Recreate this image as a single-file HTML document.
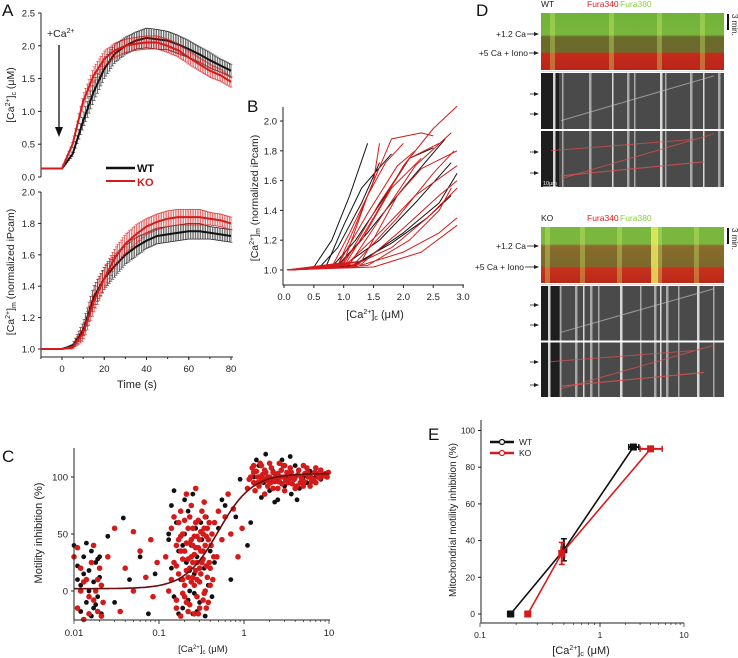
<!DOCTYPE html>
<html><head><meta charset="utf-8"><style>
html,body{margin:0;padding:0;background:#fff;}
svg{display:block;font-family:"Liberation Sans",Arial,sans-serif;}
</style></head><body>
<svg id="fig" width="738" height="658" viewBox="0 0 738 658" xmlns="http://www.w3.org/2000/svg">
<defs>
<linearGradient id="wtStrip" x1="0" y1="0" x2="0" y2="1">
<stop offset="0" stop-color="#6fb33a"/><stop offset="0.38" stop-color="#7ab63c"/>
<stop offset="0.42" stop-color="#6a6a2a"/><stop offset="0.68" stop-color="#6d6a2c"/>
<stop offset="0.72" stop-color="#c42a1a"/><stop offset="1" stop-color="#b8261a"/></linearGradient>
<linearGradient id="koStrip" x1="0" y1="0" x2="0" y2="1">
<stop offset="0" stop-color="#78b83e"/><stop offset="0.3" stop-color="#7cb63e"/>
<stop offset="0.34" stop-color="#8a6a2a"/><stop offset="0.7" stop-color="#7a6a2c"/>
<stop offset="0.74" stop-color="#c8301c"/><stop offset="1" stop-color="#b82a1a"/></linearGradient>
</defs>
<g id="panelA"></g>
<g id="panelB"></g>
<g id="panelC"></g>
<g id="panelD"></g>
<g id="panelE"></g>
</svg>
<script>
// ---------- Panel A data ----------
const timeA = [-10,-5,0,5,10,15,20,25,30,35,40,45,50,55,60,65,70,75,80];
const wtCyto = [0.13,0.13,0.13,0.35,0.85,1.3,1.65,1.88,2.0,2.08,2.12,2.1,2.08,2.02,1.95,1.87,1.78,1.7,1.62];
const koCyto = [0.13,0.13,0.13,0.5,1.15,1.55,1.8,1.93,2.0,2.03,2.05,2.05,2.0,1.93,1.82,1.72,1.62,1.55,1.45];
const wtCytoErr = [0,0,0,0.03,0.1,0.15,0.15,0.14,0.13,0.13,0.15,0.15,0.14,0.14,0.13,0.12,0.12,0.1,0.1];
const koCytoErr = [0,0,0,0.04,0.1,0.12,0.12,0.11,0.1,0.1,0.1,0.1,0.1,0.1,0.1,0.1,0.1,0.09,0.08];
const wtMito = [1.0,1.0,1.0,1.02,1.12,1.33,1.45,1.53,1.6,1.65,1.69,1.72,1.73,1.74,1.75,1.75,1.74,1.73,1.72];
const koMito = [1.0,1.0,1.0,1.01,1.1,1.3,1.45,1.58,1.67,1.73,1.78,1.81,1.83,1.84,1.84,1.84,1.83,1.82,1.8];
const wtMitoErr = [0,0,0,0.01,0.05,0.07,0.07,0.07,0.06,0.06,0.05,0.05,0.05,0.05,0.05,0.05,0.04,0.04,0.04];
const koMitoErr = [0,0,0,0.01,0.05,0.07,0.07,0.06,0.06,0.06,0.05,0.05,0.05,0.05,0.05,0.05,0.04,0.04,0.04];
const ticksAtop = [0,0.5,1.0,1.5,2.0,2.5];
const ticksAbot = [1.0,1.2,1.4,1.6,1.8,2.0];
const ticksAx = [0,20,40,60,80];

// ---------- Panel B data ----------
const wtTracesB = [
 [[0.1,1.0],[0.5,1.02],[0.8,1.2],[1.1,1.5],[1.4,1.85]],
 [[0.1,1.0],[0.6,1.02],[0.9,1.15],[1.3,1.45],[1.6,1.72]],
 [[0.1,1.0],[0.8,1.02],[1.2,1.2],[1.7,1.5],[2.1,1.75],[2.5,1.82]],
 [[0.1,1.0],[0.9,1.03],[1.4,1.25],[2.0,1.55],[2.7,1.88]],
 [[0.1,1.0],[1.0,1.03],[1.6,1.2],[2.2,1.45],[2.8,1.72]],
 [[0.1,1.0],[1.1,1.02],[1.8,1.18],[2.4,1.35],[2.8,1.5]],
 [[0.1,1.0],[0.7,1.02],[1.0,1.3],[1.3,1.55],[1.8,1.78]],
 [[0.1,1.0],[1.2,1.03],[2.0,1.25],[2.6,1.45],[2.9,1.65]]
];
const koTracesB = [
 [[0.05,1.0],[0.9,1.03],[1.2,1.3],[1.5,1.6],[1.6,1.85]],
 [[0.05,1.0],[1.0,1.05],[1.4,1.5],[1.8,1.88],[2.3,1.92],[2.5,1.9]],
 [[0.05,1.0],[1.0,1.02],[1.5,1.35],[2.0,1.7],[2.5,1.95],[2.9,2.1]],
 [[0.05,1.0],[1.1,1.04],[1.7,1.4],[2.2,1.7],[2.8,1.92]],
 [[0.05,1.0],[0.9,1.02],[1.3,1.2],[1.8,1.55],[2.3,1.75]],
 [[0.05,1.0],[1.2,1.05],[1.9,1.35],[2.5,1.65],[2.85,1.8]],
 [[0.05,1.0],[1.0,1.02],[1.6,1.25],[2.2,1.5],[2.9,1.7]],
 [[0.05,1.0],[1.3,1.04],[2.0,1.28],[2.6,1.5],[2.9,1.6]],
 [[0.05,1.0],[1.1,1.02],[1.8,1.15],[2.4,1.35],[2.9,1.55]],
 [[0.05,1.0],[1.2,1.02],[2.0,1.12],[2.6,1.25],[2.9,1.35]],
 [[0.05,1.0],[0.8,1.02],[1.1,1.25],[1.4,1.5],[1.7,1.72],[2.0,1.85]],
 [[0.05,1.0],[1.4,1.03],[2.1,1.2],[2.6,1.4],[2.8,1.55]],
 [[0.05,1.0],[1.5,1.02],[2.3,1.12],[2.9,1.3]],
 [[0.05,1.0],[0.9,1.03],[1.4,1.38],[1.9,1.7],[2.2,1.8]],
 [[0.05,1.0],[1.0,1.04],[1.6,1.45],[2.1,1.75],[2.6,1.85]],
 [[0.05,1.0],[1.3,1.06],[1.9,1.5],[2.3,1.68],[2.9,1.8]]
];
const ticksBy = [1.0,1.2,1.4,1.6,1.8,2.0];
const ticksBx = [0.0,0.5,1.0,1.5,2.0,2.5,3.0];

// ---------- Panel C data ----------
const wtScatterC = "0.010,40 0.011,22 0.012,5 0.013,30 0.014,-10 0.015,18 0.016,35 0.017,8 0.018,25 0.019,-5 0.020,12 0.021,-20 0.012,-18 0.015,0 0.017,-15 0.019,28 0.011,10 0.014,42 0.016,-22 0.020,30 0.013,15 0.018,-12 0.025,48 0.038,64 0.045,10 0.06,30 0.075,-20 0.03,-10 0.09,15 0.13,45 0.14,20 0.15,-5 0.16,60 0.17,35 0.18,10 0.19,-15 0.2,50 0.21,25 0.22,70 0.23,0 0.24,40 0.25,-20 0.26,15 0.27,55 0.28,30 0.3,-10 0.32,45 0.34,20 0.36,65 0.38,5 0.4,35 0.42,-5 0.45,25 0.15,88 0.2,80 0.17,-20 0.22,-8 0.28,-18 0.35,-22 0.14,75 0.25,85 0.5,55 0.55,80 0.6,75 0.7,10 0.8,65 0.13,50 0.19,40 0.23,18 0.31,60 0.26,-2 1.2,60 0.9,98 1.1,40 1.3,100 1.5,110 1.7,95 1.8,120 2.0,88 2.2,105 2.5,80 2.8,115 3.0,92 3.3,100 3.6,85 4.0,110 4.5,90 5.0,100 5.5,95 6.0,105 7.0,100 8.0,98 9.0,103 1.6,82 2.3,78 3.5,118 4.2,80 1.4,115 2.7,95";
const koScatterC = "0.010,30 0.011,-15 0.012,20 0.013,-25 0.014,10 0.015,-5 0.016,25 0.017,40 0.018,0 0.019,-18 0.020,20 0.021,5 0.022,-10 0.011,38 0.013,8 0.015,-20 0.017,-8 0.019,10 0.021,-22 0.012,0 0.025,30 0.03,55 0.035,-18 0.04,20 0.05,52 0.06,35 0.07,12 0.08,45 0.085,-5 0.095,25 0.05,0 0.12,30 0.13,0 0.14,55 0.15,25 0.16,-15 0.17,45 0.18,70 0.19,10 0.2,35 0.21,-10 0.22,55 0.23,20 0.24,75 0.25,40 0.26,5 0.27,60 0.28,25 0.29,-20 0.3,45 0.31,15 0.32,70 0.33,35 0.35,0 0.37,55 0.39,25 0.41,40 0.43,10 0.45,60 0.48,30 0.5,70 0.55,45 0.6,65 0.65,85 0.7,50 0.75,72 0.85,30 0.95,55 0.16,40 0.18,-22 0.2,62 0.22,-18 0.24,30 0.26,48 0.28,-5 0.3,20 0.33,50 0.36,-15 0.4,5 0.15,65 0.21,85 0.27,90 0.34,78 0.19,28 0.23,42 0.25,12 0.29,38 1.1,90 1.2,100 1.3,95 1.4,105 1.5,100 1.6,110 1.7,98 1.8,104 1.9,92 2.0,100 2.1,108 2.3,96 2.5,103 2.7,100 2.9,110 3.1,97 3.4,102 3.7,94 4.0,100 4.4,106 4.8,98 5.2,103 5.7,100 6.2,96 6.8,104 7.5,100 8.5,102 9.5,100 1.35,88 1.55,112 1.75,85 2.2,90 2.6,112 3.0,88 3.5,108 4.2,92 5.0,110 6.0,92 1.25,108 1.45,95 1.65,102 1.85,97 2.4,100 2.8,94 3.2,104 3.8,100 4.6,95 5.5,108 7.0,95 8.0,106 0.14,10 0.16,22 0.17,60 0.18,35 0.19,50 0.2,5 0.21,42 0.22,28 0.23,65 0.24,8 0.25,55 0.26,32 0.27,18 0.28,48 0.29,62 0.3,8 0.31,35 0.32,25 0.33,-8 0.34,55 0.35,40 0.36,22 0.37,12 0.38,45 0.39,60 0.4,20 0.42,50 0.44,30 0.17,15 0.2,-5 0.23,-12 0.26,-20 0.3,-15 0.34,-2 0.38,-10 0.16,-8 0.19,-2 0.22,12 0.25,25 0.28,10 0.31,52 0.35,65 0.27,38 0.24,45 0.21,18 0.18,48 0.33,28 0.36,48 1.15,98 1.3,104 1.45,100 1.6,96 1.75,106 1.9,100 2.05,95 2.2,104 2.35,100 2.55,96 2.75,106 2.95,100 3.3,95 3.6,104 3.9,98 4.3,102 4.7,100 5.1,96 5.6,104 6.1,100 6.6,98 7.2,103 7.8,99 8.8,101 9.8,104 1.5,92 2.0,112 2.5,90 3.0,110 4.0,90 5.0,92 7.0,108 1.3,110 2.2,98 3.4,98";
const fitC = {bottom:2, top:103, ec50:0.5, hill:2.2};
const ticksCx = [0.01,0.1,1,10];
const ticksCy = [0,50,100];

// ---------- Panel E data ----------
const wtE_x = [0.18,0.5,2.5];
const wtE_y = [0,35,91];
const wtE_xerr = [[0.17,0.19],[0.49,0.52],[2.2,2.9]];
const wtE_yerr = [[0,0],[29,41],[90,92]];
const koE_x = [0.25,0.48,4.0];
const koE_y = [0,33,90];
const koE_xerr = [[0.24,0.26],[0.46,0.5],[3.0,5.5]];
const koE_yerr = [[0,0],[27,39],[89,91]];
const ticksEy = [0,20,40,60,80,100];
const ticksEx = [0.1,1,10];

// ---------- helpers ----------
const NS="http://www.w3.org/2000/svg";
function mk(parent,tag,attrs,text){const e=document.createElementNS(NS,tag);for(const k in attrs)e.setAttribute(k,attrs[k]);if(text!==undefined)e.textContent=text;parent.appendChild(e);return e;}
function interp(xs,ys,x){for(let i=0;i<xs.length-1;i++){if(x>=xs[i]&&x<=xs[i+1]){const f=(x-xs[i])/(xs[i+1]-xs[i]);return ys[i]+f*(ys[i+1]-ys[i]);}}return ys[ys.length-1];}
function lbl(g,x,y,txt,size,anchor,fill){return mk(g,'text',{x:x,y:y,'font-size':size,'text-anchor':anchor||'middle',fill:fill||'#222'},txt);}

// ---------- Panel A ----------
const gA=document.getElementById('panelA');
const xA=t=>62+t*2.1125;
const yAt=v=>177-v*65.6;
const yAb=v=>349-(v-1)*157;
let t=mk(gA,'text',{x:2,y:16,'font-size':17,fill:'#111'},'A');

let ax=mk(gA,'path',{d:`M41,13 V177`,stroke:'#222','stroke-width':1,fill:'none'});

ticksAtop.forEach(v=>{mk(gA,'line',{x1:38,x2:41,y1:yAt(v),y2:yAt(v),stroke:'#222'});lbl(gA,35,yAt(v)+3.5,v.toFixed(1),9.5,'end');});
ax=mk(gA,'path',{d:`M41,192 V357 H233`,stroke:'#222','stroke-width':1,fill:'none'});

ticksAbot.forEach(v=>{mk(gA,'line',{x1:38,x2:41,y1:yAb(v),y2:yAb(v),stroke:'#222'});lbl(gA,35,yAb(v)+3.5,v.toFixed(1),9.5,'end');});
ticksAx.forEach(v=>{mk(gA,'line',{x1:xA(v),x2:xA(v),y1:357,y2:360,stroke:'#222'});lbl(gA,xA(v),372,String(v),9.5);});
for(let v=-10;v<=80;v+=10){mk(gA,'line',{x1:xA(v),x2:xA(v),y1:357,y2:359,stroke:'#222'});}
t=lbl(gA,137,388,'Time (s)',11);
t=mk(gA,'text',{transform:'translate(14,95) rotate(-90)','font-size':10.5,'text-anchor':'middle',fill:'#222'});
t.innerHTML='[Ca<tspan font-size="7" dy="-4">2+</tspan><tspan dy="4">]</tspan><tspan font-size="7" dy="2">c</tspan><tspan dy="-2"> (μM)</tspan>';

t=mk(gA,'text',{transform:'translate(14,272) rotate(-90)','font-size':10.5,'text-anchor':'middle',fill:'#222'});
t.innerHTML='[Ca<tspan font-size="7" dy="-4">2+</tspan><tspan dy="4">]</tspan><tspan font-size="7" dy="2">m</tspan><tspan dy="-2"> (normalized iPcam)</tspan>';

t=mk(gA,'text',{x:47,y:37,'font-size':10.5,fill:'#222'});t.innerHTML='+Ca<tspan font-size="7" dy="-4">2+</tspan>';

let ar=mk(gA,'path',{d:'M59,45 V130',stroke:'#111','stroke-width':1.3});
ar=mk(gA,'path',{d:'M55,127 L59,137 L63,127 Z',fill:'#111'});
function drawSeriesA(vals,errs,yf,color,name){
  const g=mk(gA,'g',{});
  for(let s=0;s<=80;s+=0.8){const m=interp(timeA,vals,s),e=interp(timeA,errs,s);
    if(e<=0)continue;
    mk(g,'line',{x1:xA(s),x2:xA(s),y1:yf(m-e),y2:yf(m+e),stroke:color,'stroke-width':0.7,opacity:0.85});
    mk(g,'line',{x1:xA(s)-1.5,x2:xA(s)+1.5,y1:yf(m+e),y2:yf(m+e),stroke:color,'stroke-width':0.6,opacity:0.8});
    mk(g,'line',{x1:xA(s)-1.5,x2:xA(s)+1.5,y1:yf(m-e),y2:yf(m-e),stroke:color,'stroke-width':0.6,opacity:0.8});}
  let d='';timeA.forEach((tt,i)=>{d+=(i?'L':'M')+xA(tt).toFixed(1)+','+yf(vals[i]).toFixed(1);});
  mk(g,'path',{d:d,stroke:color,'stroke-width':2,fill:'none'});
}
drawSeriesA(wtCyto,wtCytoErr,yAt,'#111','wt-cytosolic-series');
drawSeriesA(koCyto,koCytoErr,yAt,'#d41a1a','ko-cytosolic-series');
drawSeriesA(wtMito,wtMitoErr,yAb,'#111','wt-mito-series');
drawSeriesA(koMito,koMitoErr,yAb,'#d41a1a','ko-mito-series');
let lg=mk(gA,'g',{});
mk(lg,'line',{x1:106,x2:135,y1:168,y2:168,stroke:'#111','stroke-width':2.5});
mk(lg,'text',{x:137,y:172,'font-size':11,'font-weight':'bold',fill:'#111'},'WT');
mk(lg,'line',{x1:106,x2:135,y1:181,y2:181,stroke:'#d41a1a','stroke-width':2});
mk(lg,'text',{x:137,y:186,'font-size':11,'font-weight':'bold',fill:'#d41a1a'},'KO');

// ---------- Panel B ----------
const gB=document.getElementById('panelB');
const xB=v=>284+v*59.7;
const yB=v=>270-(v-1)*149;
t=mk(gB,'text',{x:247,y:112,'font-size':17,fill:'#111'},'B');
ax=mk(gB,'path',{d:'M283,107 V285 H464',stroke:'#222',fill:'none'});
ticksBy.forEach(v=>{mk(gB,'line',{x1:280,x2:283,y1:yB(v),y2:yB(v),stroke:'#222'});lbl(gB,277,yB(v)+3.5,v.toFixed(1),9.5,'end');});
ticksBx.forEach(v=>{mk(gB,'line',{x1:xB(v),x2:xB(v),y1:285,y2:288,stroke:'#222'});lbl(gB,xB(v),300,v.toFixed(1),9.5);});
t=mk(gB,'text',{x:375,y:318,'font-size':11,'text-anchor':'middle',fill:'#222'});
t.innerHTML='[Ca<tspan font-size="7" dy="-4">2+</tspan><tspan dy="4">]</tspan><tspan font-size="7" dy="2">c</tspan><tspan dy="-2"> (μM)</tspan>';

t=mk(gB,'text',{transform:'translate(258,198) rotate(-90)','font-size':10.5,'text-anchor':'middle',fill:'#222'});
t.innerHTML='[Ca<tspan font-size="7" dy="-4">2+</tspan><tspan dy="4">]</tspan><tspan font-size="7" dy="2">m</tspan><tspan dy="-2"> (normalized iPcam)</tspan>';

function drawTraces(list,color,name){list.forEach((tr,i)=>{let d='';tr.forEach((p,j)=>{d+=(j?'L':'M')+xB(p[0]).toFixed(1)+','+yB(p[1]).toFixed(1);});
  const p=mk(gB,'path',{d:d,stroke:color,'stroke-width':1,fill:'none','stroke-linejoin':'round'});
  });}
drawTraces(wtTracesB,'#111','wt-trace');
drawTraces(koTracesB,'#d41a1a','ko-trace');

// ---------- Panel C ----------
const gC=document.getElementById('panelC');
const xC=v=>74+(Math.log10(v)+2)*85;
const yC=v=>591-v*1.14;
t=mk(gC,'text',{x:2,y:462,'font-size':17,fill:'#111'},'C');
function drawScatter(str,color,name,r){const g=mk(gC,'g',{});
  str.trim().split(/\s+/).forEach(pp=>{const [a,b]=pp.split(',').map(Number);mk(g,'circle',{cx:xC(a).toFixed(1),cy:yC(b).toFixed(1),r:r,fill:color});});}
drawScatter(wtScatterC,'#111','wt-scatter',2.4);
drawScatter(koScatterC,'#d41a1a','ko-scatter',2.8);
{let d='';for(let lv=-2;lv<=1.0001;lv+=0.02){const x=Math.pow(10,lv);const y=fitC.bottom+(fitC.top-fitC.bottom)/(1+Math.pow(fitC.ec50/x,fitC.hill));d+=(d?'L':'M')+xC(x).toFixed(1)+','+yC(y).toFixed(1);}
 const p=mk(gC,'path',{d:d,stroke:'#6a0d0d','stroke-width':1.6,fill:'none'});}
ax=mk(gC,'path',{d:'M74,448 V620 H330',stroke:'#222',fill:'none'});
ticksCy.forEach(v=>{mk(gC,'line',{x1:71,x2:74,y1:yC(v),y2:yC(v),stroke:'#222'});lbl(gC,68,yC(v)+3.5,String(v),9.5,'end');});
ticksCx.forEach(v=>{lbl(gC,xC(v),636,String(v),9.5);});
for(let dec=0.01;dec<10;dec*=10){for(let k=1;k<=10;k++){const v=dec*k;mk(gC,'line',{x1:xC(v),x2:xC(v),y1:620,y2:k===1||k===10?624:622,stroke:'#222','stroke-width':0.7});}}
t=mk(gC,'text',{x:203,y:652,'font-size':9.5,'text-anchor':'middle',fill:'#222'});
t.innerHTML='[Ca<tspan font-size="6" dy="-3">2+</tspan><tspan dy="3">]</tspan><tspan font-size="6" dy="2">c</tspan><tspan dy="-2"> (μM)</tspan>';

t=mk(gC,'text',{transform:'translate(42,533) rotate(-90)','font-size':11,'text-anchor':'middle',fill:'#222'},'Motility inhibition (%)');


// ---------- Panel D ----------
const gD=document.getElementById('panelD');
t=mk(gD,'text',{x:476,y:16,'font-size':17,fill:'#111'},'D');
const streaksWT=[553,562,589,612,627,634,660,665,690,703,718];
const streaksKO=[548,560,575,583,590,598,620,640,654,660,666,678,697,713];
function kymo(x0,y0,w,h,stripId,streaks,top,labelName,brightCol){
  const g=mk(gD,'g',{});
  mk(g,'rect',{x:x0,y:y0,width:w,height:top,fill:'url(#'+stripId+')'});
  streaks.forEach((sx,i)=>{if(i%3===0)mk(g,'rect',{x:sx-3,y:y0,width:5,height:top,fill:'#d8f070',opacity:0.35});});
  if(brightCol)mk(g,'rect',{x:brightCol,y:y0,width:7,height:top,fill:'#f0f060',opacity:0.8});
  const gy1=y0+top+3,gh=(h-top-8)/2;
  [gy1,gy1+gh+2].forEach((gy,k)=>{
    mk(g,'rect',{x:x0,y:gy,width:w,height:gh,fill:'#4a4a4a'});
    mk(g,'rect',{x:x0,y:gy,width:18,height:gh,fill:'#1e1e1e'});
    streaks.forEach((sx,i)=>{mk(g,'rect',{x:sx,y:gy,width:i%2?1.5:2.5,height:gh,fill:'#e8e8e8',opacity:i%3?0.6:0.9});});
    mk(g,'line',{x1:x0+20,y1:gy+gh*0.85,x2:x0+w-10,y2:gy+gh*0.05,stroke:k?'#e05050':'#bbb','stroke-width':1,opacity:0.7});
    if(k){mk(g,'line',{x1:x0+20,y1:gy+gh*0.8,x2:x0+w-20,y2:gy+gh*0.55,stroke:'#e05050','stroke-width':1.2,opacity:0.8});
          mk(g,'line',{x1:x0+10,y1:gy+gh*0.35,x2:x0+w-30,y2:gy+gh*0.15,stroke:'#e05050','stroke-width':1,opacity:0.7});}
  });
  mk(g,'line',{x1:x0,x2:x0+w,y1:gy1-1.5,y2:gy1-1.5,stroke:'#ddd','stroke-width':1});
}
kymo(541,13,183,177,'wtStrip',streaksWT,57,'wt-kymograph',null);
kymo(541,227,183,173,'koStrip',streaksKO,56,'ko-kymograph',651);
function dLabels(yTop,name,c1,c2,arrows,xTxt){
  const g=mk(gD,'g',{});
  mk(g,'text',{x:541,y:yTop-6,'font-size':8.5,fill:'#222'},name.startsWith('wt')?'WT':'KO');
  mk(g,'text',{x:587,y:yTop-6,'font-size':8.5,fill:'#e02020'},'Fura340');
  mk(g,'text',{x:620,y:yTop-6,'font-size':8.5,fill:'#8ad040'},'Fura380');
  mk(g,'text',{x:526,y:c1+3,'font-size':8.5,'text-anchor':'end',fill:'#222'},'+1.2 Ca');
  mk(g,'text',{x:xTxt,y:c2+3,'font-size':8.5,'text-anchor':'end',fill:'#222'},'+5 Ca + Iono');
  [c1,c2].forEach((yy,i)=>{const x1=i?xTxt+1:527;mk(g,'line',{x1:x1,x2:537,y1:yy,y2:yy,stroke:'#222','stroke-width':0.8});mk(g,'path',{d:`M534,${yy-2} L539,${yy} L534,${yy+2}Z`,fill:'#222'});});
  arrows.forEach(yy=>{mk(g,'line',{x1:530,x2:537,y1:yy,y2:yy,stroke:'#222','stroke-width':0.8});mk(g,'path',{d:`M534,${yy-2} L539,${yy} L534,${yy+2}Z`,fill:'#222'});});
  mk(g,'line',{x1:728,x2:728,y1:yTop+1,y2:yTop+17,stroke:'#111','stroke-width':2});
  mk(g,'text',{transform:`translate(732,${yTop+1}) rotate(90)`,'font-size':8,fill:'#222'},'3 min.');
}
dLabels(13,'wt-d-labels',34,53,[94,114,152,173],528);
dLabels(227,'ko-d-labels',246,267,[305,325,362,385],524);
{const sb=mk(gD,'g',{});
 mk(sb,'text',{x:543,y:185,'font-size':5.5,fill:'#eee'},'10μm');mk(sb,'line',{x1:543,x2:558,y1:187,y2:187,stroke:'#fff','stroke-width':1});}

// ---------- Panel E ----------
const gE=document.getElementById('panelE');
const xE=v=>{const l=Math.log10(v);return l<0?600+l*120:600+l*84;};
const yE=v=>614-v*1.835;
t=mk(gE,'text',{x:428,y:440,'font-size':17,fill:'#111'},'E');
ax=mk(gE,'path',{d:'M481,420 V623 H684',stroke:'#222',fill:'none'});
ticksEy.forEach(v=>{mk(gE,'line',{x1:478,x2:481,y1:yE(v),y2:yE(v),stroke:'#222'});lbl(gE,475,yE(v)+3,String(v),8.5,'end');});
ticksEx.forEach(v=>{lbl(gE,xE(v),638,String(v),8.5);});
for(let dec=0.1;dec<10;dec*=10){for(let k=1;k<=10;k++){const v=dec*k;mk(gE,'line',{x1:xE(v),x2:xE(v),y1:623,y2:k===1||k===10?627:625,stroke:'#222','stroke-width':0.7});}}
t=mk(gE,'text',{x:581,y:654,'font-size':11,'text-anchor':'middle',fill:'#222'});
t.innerHTML='[Ca<tspan font-size="7" dy="-4">2+</tspan><tspan dy="4">]</tspan><tspan font-size="7" dy="2">c</tspan><tspan dy="-2"> (μM)</tspan>';

t=mk(gE,'text',{transform:'translate(456,520) rotate(-90)','font-size':10,'text-anchor':'middle',fill:'#222'},'Mitochondrial motility inhibition (%)');

function drawE(xs,ys,xe,ye,color,name){const g=mk(gE,'g',{});
  let d='';xs.forEach((x,i)=>{d+=(i?'L':'M')+xE(x).toFixed(1)+','+yE(ys[i]).toFixed(1);});
  mk(g,'path',{d:d,stroke:color,'stroke-width':1.6,fill:'none'});
  xs.forEach((x,i)=>{const cx=xE(x),cy=yE(ys[i]);
    mk(g,'line',{x1:xE(xe[i][0]),x2:xE(xe[i][1]),y1:cy,y2:cy,stroke:color,'stroke-width':2});
    [xe[i][0],xe[i][1]].forEach(v=>mk(g,'line',{x1:xE(v),x2:xE(v),y1:cy-3,y2:cy+3,stroke:color,'stroke-width':1.5}));
    mk(g,'line',{x1:cx,x2:cx,y1:yE(ye[i][0]),y2:yE(ye[i][1]),stroke:color,'stroke-width':2});
    [ye[i][0],ye[i][1]].forEach(v=>mk(g,'line',{x1:cx-3,x2:cx+3,y1:yE(v),y2:yE(v),stroke:color,'stroke-width':1.5}));
    mk(g,'rect',{x:cx-3.5,y:cy-3.5,width:7,height:7,fill:color});});}
drawE(wtE_x,wtE_y,wtE_xerr,wtE_yerr,'#111','wt-e-series');
drawE(koE_x,koE_y,koE_xerr,koE_yerr,'#d41a1a','ko-e-series');
lg=mk(gE,'g',{});
mk(lg,'line',{x1:490,x2:514,y1:442,y2:442,stroke:'#111','stroke-width':2.5});mk(lg,'circle',{cx:502,cy:442,r:2.5,fill:'#fff',stroke:'#111','stroke-width':1.2});
mk(lg,'text',{x:519,y:445,'font-size':8.5,fill:'#222'},'WT');
mk(lg,'line',{x1:490,x2:514,y1:453,y2:453,stroke:'#d41a1a','stroke-width':2.5});mk(lg,'circle',{cx:502,cy:453,r:2.5,fill:'#fff',stroke:'#d41a1a','stroke-width':1.2});
mk(lg,'text',{x:519,y:456,'font-size':8.5,fill:'#222'},'KO');
</script>
</body></html>
